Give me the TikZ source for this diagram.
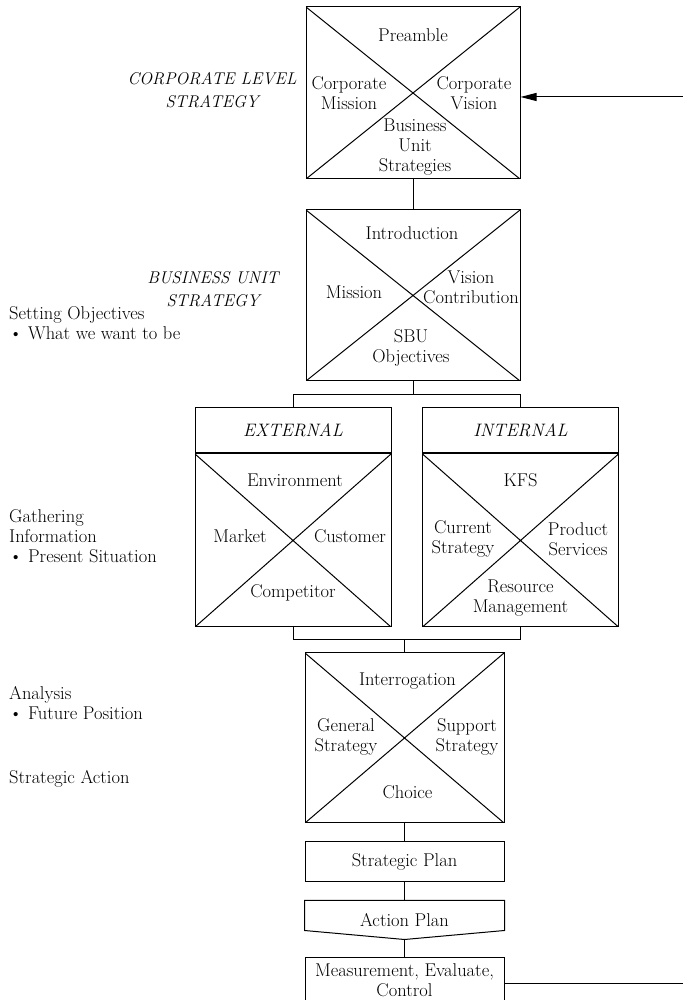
\documentclass[tikz,border=0pt]{standalone}
\usepackage{tikz}
\usetikzlibrary{arrows.meta, positioning, calc}

\begin{document}
\begin{tikzpicture}[
  x=1pt, y=1pt,
  node distance=18pt,
  every node/.style={font=\fontsize{18.5}{20}\selectfont},
  box/.style={rectangle, draw, line width=1pt, minimum width=199pt,
    inner sep=0pt, align=center},
  xbox/.style={box, path picture={
      \draw[line width=1pt]
        (path picture bounding box.north west) -- (path picture bounding box.south east)
        (path picture bounding box.south west) -- (path picture bounding box.north east);}},
  cell/.style={align=center, inner sep=0pt},
  head/.style={font=\fontsize{17}{23}\selectfont\itshape, align=center, inner sep=0pt},
  side/.style={align=left, anchor=west, inner sep=0pt},
  link/.style={line width=1pt},
  arrow/.style={link, -{Triangle[length=16pt, width=8pt]}}
]
\useasboundingbox (0,0) rectangle (682,1000);

% Corporate level
\node[xbox, minimum width=214pt, minimum height=172pt] (corp) at (413,907) {};
\node[cell] at ($(corp)+(0,58)$) {Preamble};
\node[cell] at ($(corp)+(-64,0)$) {Corporate\\Mission};
\node[cell] at ($(corp)+(61,0)$) {Corporate\\Vision};
\node[cell] at ($(corp)+(2,-54)$) {Business\\Unit\\Strategies};

% Business unit level
\node[xbox, minimum width=214pt, minimum height=171pt, below=30pt of corp] (bu) {};
\node[cell] at ($(bu)+(-1,62.5)$) {Introduction};
\node[cell] at ($(bu)+(-59,3.5)$) {Mission};
\node[cell] at ($(bu)+(58,8)$) {Vision\\Contribution};
\node[cell] at ($(bu)+(-2,-52.5)$) {SBU\\Objectives};

% External / internal scan
\node[box, minimum width=196pt, minimum height=45pt, font=\fontsize{18}{20}\selectfont\itshape] (ext) at (293,569.5) {EXTERNAL};
\node[xbox, minimum width=196pt, minimum height=173pt, anchor=north] (extbody) at (ext.south) {};
\node[cell] at ($(extbody)+(2,60.5)$) {Environment};
\node[cell] at ($(extbody)+(-53,4.5)$) {Market};
\node[cell] at ($(extbody)+(57,4.5)$) {Customer};
\node[cell] at ($(extbody)+(0,-52.5)$) {Competitor};

\node[box, minimum width=196pt, minimum height=45pt, font=\fontsize{18}{20}\selectfont\itshape] (int) at (520.5,569.5) {INTERNAL};
\node[xbox, minimum width=196pt, minimum height=173pt, anchor=north] (intbody) at (int.south) {};
\node[cell] at ($(intbody)+(0,60.5)$) {KFS};
\node[cell] at ($(intbody)+(-57.5,1.5)$) {Current\\Strategy};
\node[cell] at ($(intbody)+(57.5,1.5)$) {Product\\Services};
\node[cell] at ($(intbody)+(0,-57.5)$) {Resource\\Management};

% Analysis and the plans below it
\node[xbox, minimum height=170pt] (ana) at (404.5,262) {};
\node[cell] at ($(ana)+(3,57)$) {Interrogation};
\node[cell] at ($(ana)+(-58.5,1)$) {General\\Strategy};
\node[cell] at ($(ana)+(62.5,1)$) {Support\\Strategy};
\node[cell] at ($(ana)+(3,-54)$) {Choice};

\node[box, minimum height=40pt, below=of ana] (plan) {Strategic Plan};
\node[box, draw=none, minimum height=38pt, below=of plan] (act) {Action Plan};
\node[box, minimum height=52pt, below=of act] (meas) {};
\node[cell] at ($(meas)+(0,4)$) {Measurement, Evaluate,\\Control};

% Side notes
\node[head] (corplabel) at (212,910) {CORPORATE LEVEL\\STRATEGY};
\node[head] (bulabel) at (213,711) {BUSINESS UNIT\\STRATEGY};
\node[side] (objectives) at (9,677) {Setting Objectives\\\textbullet{} What we want to be};
\node[side] (gathering) at (9,464) {Gathering\\Information\\\textbullet{} Present Situation};
\node[side] (analysis) at (9,297) {Analysis\\\textbullet{} Future Position};
\node[side] (stratact) at (9,221) {Strategic Action};

% Connectors
\draw[link] (corp) -- (bu);
\draw[link] (bu.south) -- ++(0,-13) coordinate (split);
\draw[link] (ext.north) |- (split) -| (int.north);
\coordinate (merge) at ($(ana.north)+(0,13)$);
\draw[link] (extbody.south) |- (merge) -| (intbody.south);
\draw[link] (merge) -- (ana);
\draw[link] (ana) -- (plan);
\draw[link] (plan) -- (act);
\draw[link] (act.south) -- (meas);
\draw[link] (act.north west) -- (act.north east) -- ([yshift=9pt]act.south east)
  -- (act.south) -- ([yshift=9pt]act.south west) -- cycle;

% Feedback loop
\coordinate (loop) at (690,903);
\draw[arrow] (meas.east) -| (loop) -- ([yshift=-4pt]corp.east);
\end{tikzpicture}
\end{document}
